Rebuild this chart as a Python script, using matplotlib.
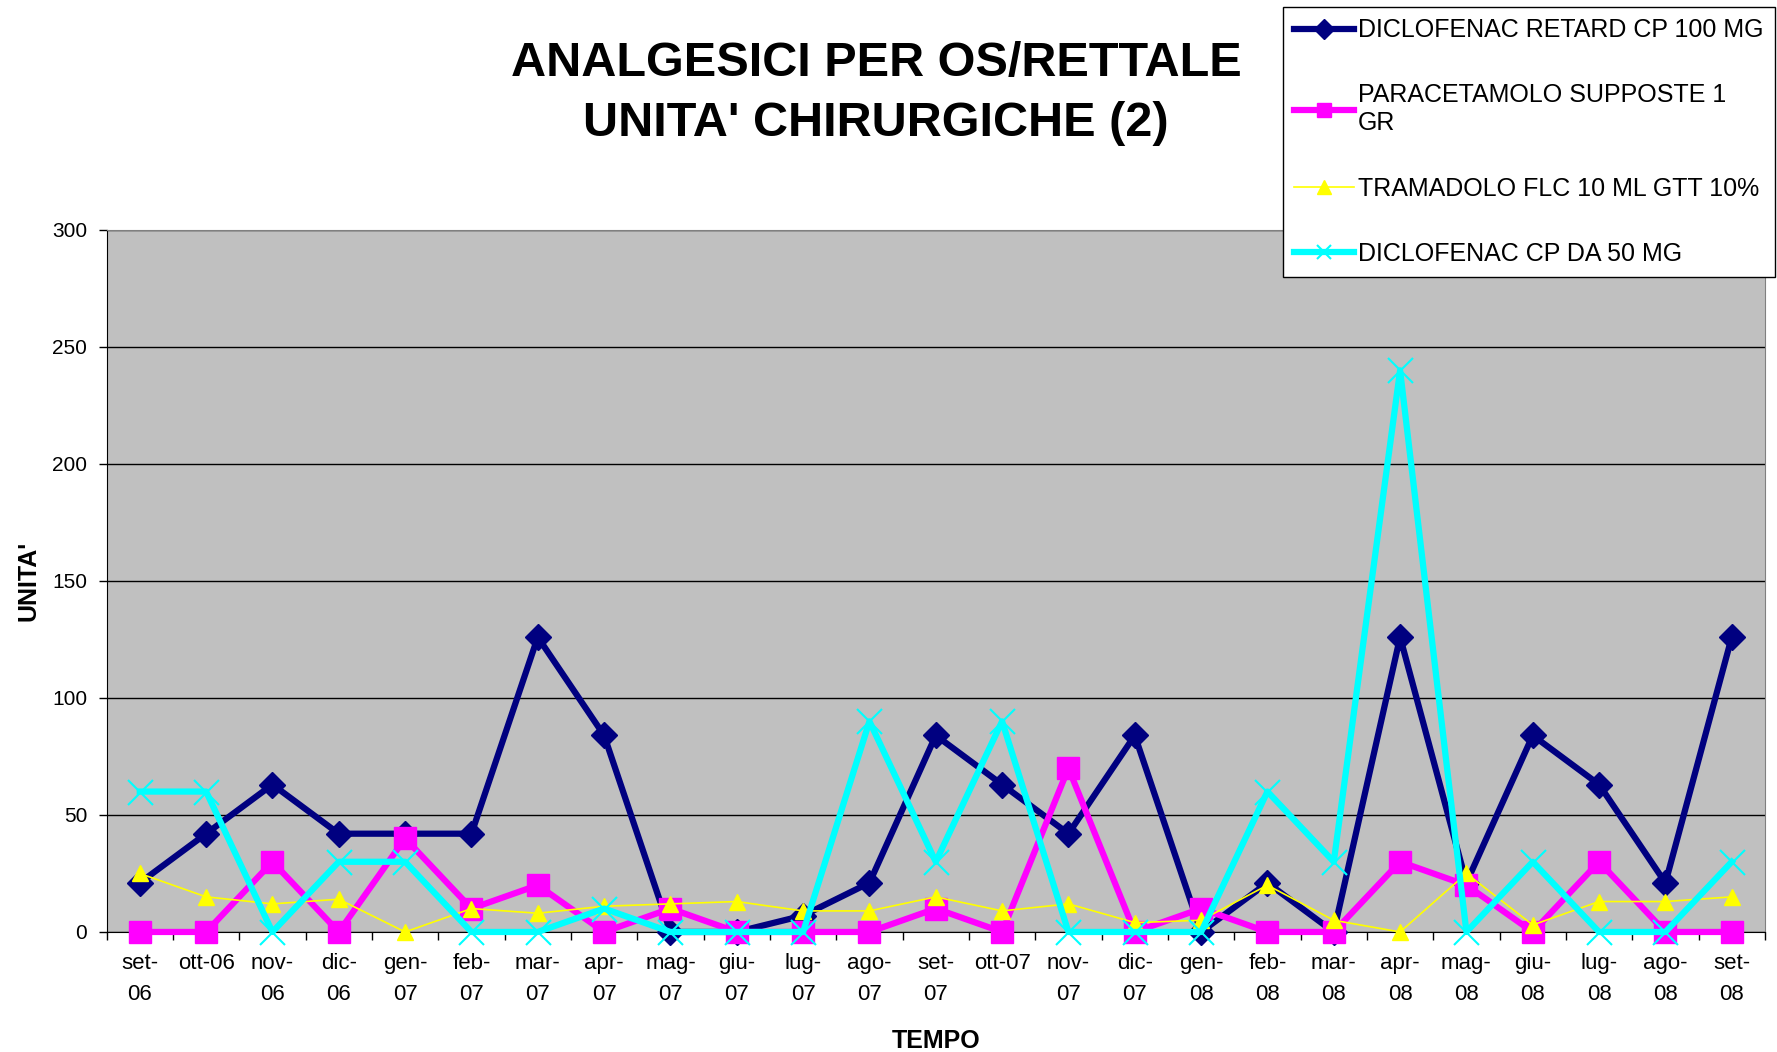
import numpy as np
import matplotlib
matplotlib.use('Agg')
import matplotlib.pyplot as plt

plt.rc('font', family=['Liberation Sans', 'DejaVu Sans'])

mesi = ["set-\n06", "ott-06", "nov-\n06", "dic-\n06", "gen-\n07", "feb-\n07", "mar-\n07",
        "apr-\n07", "mag-\n07", "giu-\n07", "lug-\n07", "ago-\n07", "set-\n07", "ott-07",
        "nov-\n07", "dic-\n07", "gen-\n08", "feb-\n08", "mar-\n08", "apr-\n08", "mag-\n08",
        "giu-\n08", "lug-\n08", "ago-\n08", "set-\n08"]

diclofenac_retard = [21, 42, 63, 42, 42, 42, 126, 84, 0, 0, 7, 21, 84, 63, 42, 84, 0, 21, 0, 126, 21, 84, 63, 21, 126]
paracetamolo = [0, 0, 30, 0, 40, 10, 20, 0, 10, 0, 0, 0, 10, 0, 70, 0, 10, 0, 0, 30, 20, 0, 30, 0, 0]
tramadolo = [25, 15, 12, 14, 0, 10, 8, 11, 12, 13, 9, 9, 15, 9, 12, 4, 5, 20, 5, 0, 25, 3, 13, 13, 15]
diclofenac_50 = [60, 60, 0, 30, 30, 0, 0, 10, 0, 0, 0, 90, 30, 90, 0, 0, 0, 60, 30, 240, 0, 30, 0, 0, 30]

nomi = ["DICLOFENAC RETARD CP 100 MG", "PARACETAMOLO SUPPOSTE 1\nGR",
        "TRAMADOLO FLC 10 ML GTT 10%", "DICLOFENAC CP DA 50 MG"]

x = np.arange(len(mesi))

fig = plt.figure(figsize=[17.77, 10.52], dpi=100)
ax = fig.add_axes([0.060, 0.1141, 0.9332, 0.6673])
ax.set_facecolor('#C0C0C0')

l1, = ax.plot(x, diclofenac_retard, color='#000080', lw=4.5, marker='D', ms=13,
              mec='#000080', mfc='#000080', clip_on=False, zorder=3)
l2, = ax.plot(x, paracetamolo, color='#FF00FF', lw=4.5, marker='s', ms=16,
              mec='#FF00FF', mfc='#FF00FF', clip_on=False, zorder=4)
l3, = ax.plot(x, tramadolo, color='#FFFF00', lw=1.2, marker='^', ms=11,
              mec='#FFFF00', mfc='#FFFF00', clip_on=False, zorder=5)
l4, = ax.plot(x, diclofenac_50, color='#00FFFF', lw=4.5, marker='x', ms=18,
              mew=1.5, mec='#00FFFF', clip_on=False, zorder=6)

ax.set_xlim(-0.5, len(mesi) - 0.5)
ax.set_ylim(0, 300)
ax.set_yticks(np.arange(0, 301, 50))
ax.set_xticks(x)
ax.set_xticklabels(mesi, fontsize=16, linespacing=1.65)
ax.set_xticks(np.arange(-0.5, len(mesi), 1), minor=True)
ax.tick_params(axis='x', which='major', length=0, pad=15)
ax.tick_params(axis='x', which='minor', length=6, width=1, direction='out')
ax.tick_params(axis='y', labelsize=15, length=6, width=1, direction='out', pad=8)

ax.yaxis.grid(True, color='black', lw=1)
ax.set_axisbelow(True)
for s in ['top', 'right']:
    ax.spines[s].set_color('#808080')
for s in ['left', 'bottom']:
    ax.spines[s].set_color('black')
ax.spines['bottom'].set_zorder(2.5)

ax.set_xlabel("TEMPO", fontsize=18, fontweight='bold', labelpad=17)
ax.set_ylabel("UNITA'", fontsize=18, fontweight='bold', labelpad=8)

fig.text(0.493, 0.911, "ANALGESICI PER OS/RETTALE\nUNITA' CHIRURGICHE (2)",
         fontsize=35, fontweight='bold', ha='center', va='center', linespacing=1.42)

leg = fig.legend([l1, l2, l3, l4], nomi, loc='upper left', bbox_to_anchor=(1283 / 1777, 1 - 7 / 1052),
                 fontsize=18, frameon=True, fancybox=False, framealpha=1, edgecolor='black',
                 borderpad=0.45, handlelength=2.4, handletextpad=0.15, labelspacing=1.65,
                 borderaxespad=0)
leg.get_frame().set_linewidth(1)
for h in leg.legend_handles:
    h.set_markersize(10)

plt.savefig("out.png", dpi=100)
